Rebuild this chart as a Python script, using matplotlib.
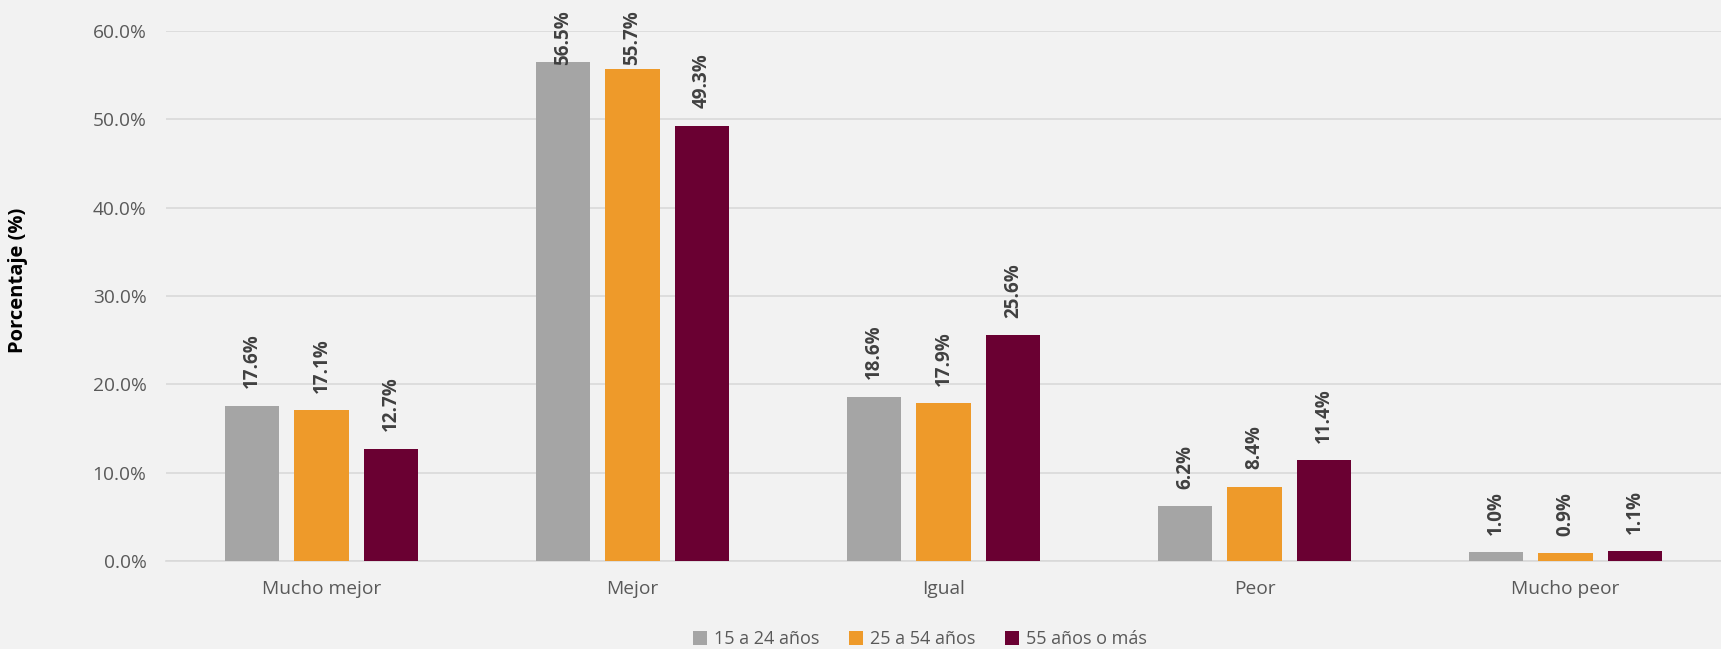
import matplotlib
matplotlib.use("Agg")
import matplotlib.pyplot as plt
import numpy as np

plt.rcParams['font.family'] = ['Open Sans', 'DejaVu Sans']

categorias = ['Mucho mejor', 'Mejor', 'Igual', 'Peor', 'Mucho peor']
grupos = ['15 a 24 años', '25 a 54 años', '55 años o más']
jovenes = [17.6, 56.5, 18.6, 6.2, 1.0]
adultos = [17.1, 55.7, 17.9, 8.4, 0.9]
mayores = [12.7, 49.3, 25.6, 11.4, 1.1]
colores = ['#A5A5A5', '#EE9A2A', '#6A0032']

bg = '#F2F2F2'
W, H = 1721, 649
fig = plt.figure(figsize=(W / 100, H / 100), dpi=100, facecolor=bg)
ax = fig.add_axes([166 / W, (H - 561) / H, (W - 166) / W, 530 / H])
ax.set_facecolor(bg)

x = np.arange(len(categorias))
paso = 0.223
ancho = 0.174
etiquetas = []
for i, (serie, nombre) in enumerate(zip([jovenes, adultos, mayores], grupos)):
    bars = ax.bar(x + (i - 1) * paso, serie, ancho, color=colores[i], label=nombre,
                  zorder=3)
    for b, v in zip(bars, serie):
        t = ax.annotate(f'{v:.1f}%', (b.get_x() + b.get_width() / 2, v),
                        xytext=(0, 12.5), textcoords='offset points',
                        rotation=90, ha='center', va='bottom', fontsize=13.5,
                        fontweight='bold', color='#404040', annotation_clip=False)
        etiquetas.append(t)

ax.set_xlim(-0.5, len(categorias) - 0.5)
ax.set_ylim(0, 60)
ax.set_yticks(np.arange(0, 61, 10))
ax.yaxis.set_major_formatter(matplotlib.ticker.FuncFormatter(lambda v, p: f'{v:.1f}%'))
ax.set_xticks(x)
ax.set_xticklabels(categorias)
ax.tick_params(axis='both', length=0, labelsize=13.8, labelcolor='#595959')
ax.tick_params(axis='x', pad=14)
ax.tick_params(axis='y', pad=14)
ax.grid(axis='y', color='#D9D9D9', linewidth=1.2, zorder=0)
for s in ['top', 'right', 'left']:
    ax.spines[s].set_visible(False)
ax.spines['bottom'].set_color('#D9D9D9')
ax.spines['bottom'].set_linewidth(1.2)

fig.text(18 / W, (H - 280) / H, 'Porcentaje (%)', rotation=90, ha='center', va='center',
         fontsize=14.5, fontweight='bold', color='black')

fig.legend(loc='center', bbox_to_anchor=(920 / W, 10 / H), ncol=3, frameon=False,
           fontsize=13, labelcolor='#595959', handlelength=0.8, handleheight=0.8,
           handletextpad=0.4, columnspacing=1.6)

# etiquetas que se salen del area: se bajan hasta el borde superior
fig.canvas.draw()
for t in etiquetas:
    bb = t.get_window_extent()
    if bb.y1 > H - 10:
        dy = (bb.y1 - (H - 10)) * 72 / fig.dpi
        ox, oy = t.xyann
        t.xyann = (ox, oy - dy)

fig.savefig('out.png', dpi=100, facecolor=bg)
